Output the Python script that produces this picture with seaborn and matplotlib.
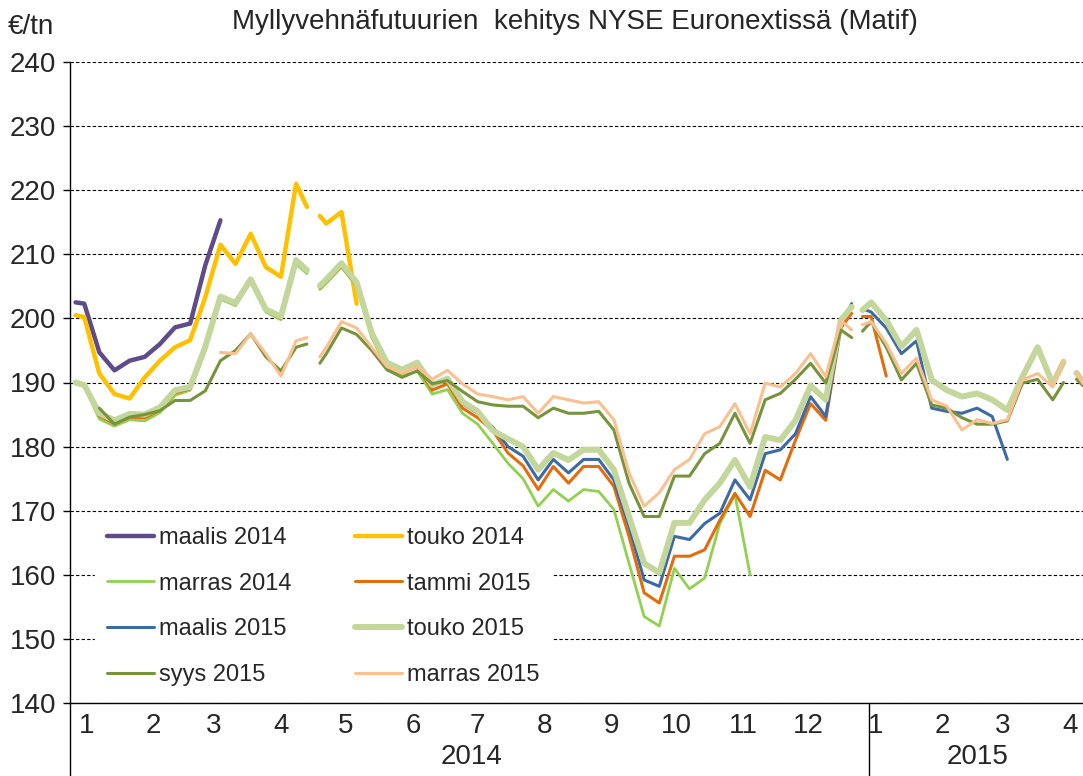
import numpy as np
import pandas as pd
import matplotlib
matplotlib.use("Agg")
import matplotlib.pyplot as plt
from matplotlib.lines import Line2D
import seaborn as sns

N = np.nan

# viikoittaiset havaintopäivät + alku- ja pyhäpäivien ympärille lisätyt päivät
weeks = pd.date_range("2014-01-03", "2015-04-10", freq="7D")
extra_days = pd.to_datetime(["2013-12-30", "2014-04-16", "2014-04-22", "2014-12-24",
                             "2014-12-29", "2015-04-01", "2015-04-07"])
dates = weeks.union(extra_days)

# hinnat €/tn (74 havaintoa / sarja)
maalis_2014 = [202.5, 202.3, 194.7, 191.9, 193.4, 194.0, 196.0, 198.6, 199.2, 208.3,
               215.3] + [N] * 63

touko_2014 = [200.5, 200.2, 191.4, 188.2, 187.5, 190.8, 193.4, 195.5, 196.6, 203.3,
              211.5, 208.5, 213.2, 208.0, 206.5, 221.0, 217.4, N, 216.0, 214.8,
              216.6, 202.3] + [N] * 52

marras_2014 = [189.8, 189.5, 184.3, 183.2, 184.2, 184.0, 185.3, 188.0, 188.8, 195.0,
               203.0, 202.0, 205.7, 201.0, 199.8, 208.5, 207.0, N, 204.5, 205.5,
               208.0, 205.0, 197.0, 192.3, 191.0, 191.8, 188.2, 188.9, 185.2, 183.5,
               180.5, 177.4, 175.0, 170.7, 173.3, 171.5, 173.3, 173.0, 170.2, 161.8,
               153.5, 152.0, 161.0, 157.8, 159.5, 168.0, 172.5, 160.0] + [N] * 26

tammi_2015 = [189.8, 189.5, 184.8, 183.6, 184.6, 184.5, 185.7, 188.4, 189.0, 195.3,
              203.2, 202.2, 205.9, 201.2, 200.0, 208.8, 207.3, N, 204.8, 205.8,
              208.2, 205.2, 197.3, 192.7, 191.5, 192.5, 188.8, 189.8, 186.0, 184.5,
              182.5, 179.0, 177.0, 173.3, 176.9, 174.3, 176.9, 176.9, 173.8, 166.0,
              157.2, 155.6, 162.9, 162.9, 163.9, 168.5, 172.7, 169.1, 176.3, 174.8,
              181.0, 186.7, 184.1, 198.5, 200.8, N, 200.3, 200.3, 191.0] + [N] * 15

maalis_2015 = [190.0, 189.7, 185.0, 183.9, 185.0, 184.9, 186.0, 188.8, 189.2, 195.5,
               203.3, 202.3, 206.0, 201.3, 200.2, 209.0, 207.5, N, 205.0, 206.0,
               208.5, 205.5, 197.6, 193.0, 191.9, 193.0, 189.5, 190.4, 186.7, 185.2,
               183.0, 180.0, 178.5, 174.8, 178.0, 175.9, 178.0, 178.0, 174.8, 167.6,
               159.2, 158.2, 166.0, 165.5, 168.0, 169.6, 174.8, 171.7, 178.9, 179.5,
               182.0, 187.8, 184.7, 199.0, 202.3, N, 201.5, 201.0, 198.5, 194.5,
               196.5, 186.0, 185.5, 185.2, 186.0, 184.7, 178.0] + [N] * 7

touko_2015 = [190.0, 189.6, 185.2, 184.1, 185.1, 185.0, 186.1, 188.8, 189.3, 195.6,
              203.4, 202.4, 206.1, 201.4, 200.3, 209.1, 207.5, N, 205.1, 206.1,
              208.6, 205.6, 197.7, 193.1, 192.0, 193.1, 189.6, 190.6, 187.0, 185.5,
              182.5, 181.2, 180.0, 176.4, 179.0, 177.9, 179.5, 179.5, 176.4, 169.1,
              161.8, 160.3, 168.1, 168.1, 171.7, 174.3, 177.9, 173.7, 181.5, 181.0,
              184.1, 189.5, 187.3, 199.7, 201.8, N, 201.3, 202.5, 199.7, 195.6,
              198.2, 190.4, 188.8, 187.8, 188.3, 187.3, 185.7, 190.9, 195.5, 189.8,
              193.2, N, 191.5, 190.0]

syys_2015 = [N, N, 186.0, 183.5, 184.6, 185.0, 185.6, 187.2, 187.2, 188.7,
             193.4, 195.0, 197.6, 194.0, 191.8, 195.5, 196.0, N, 193.0, 194.5,
             198.5, 197.5, 195.0, 192.0, 190.8, 191.8, 189.8, 190.3, 188.6, 187.0,
             186.5, 186.3, 186.3, 184.5, 186.0, 185.2, 185.2, 185.5, 182.6, 174.3,
             169.1, 169.1, 175.4, 175.4, 178.9, 180.5, 185.2, 180.5, 187.3, 188.3,
             190.5, 193.0, 189.9, 198.2, 197.0, N, 198.0, 199.5, 195.5, 190.4,
             193.0, 186.5, 186.0, 184.5, 183.5, 183.5, 184.0, 189.9, 190.5, 187.3,
             190.0, N, 190.5, 189.5]

marras_2015 = [N, N, N, N, N, N, N, N, N, N,
               194.7, 194.5, 197.6, 194.5, 191.0, 196.5, 197.0, N, 194.0, 195.5,
               199.5, 198.5, 195.5, 192.5, 191.5, 192.5, 190.5, 191.9, 189.8, 188.2,
               187.8, 187.3, 187.8, 185.2, 187.8, 187.3, 186.8, 187.0, 184.2, 175.9,
               170.7, 172.8, 176.4, 178.0, 182.0, 183.1, 186.7, 182.0, 189.9, 189.3,
               191.4, 194.5, 190.9, 199.7, 198.2, N, 199.0, 199.5, 196.1, 191.4,
               193.8, 187.3, 186.3, 182.6, 184.2, 183.6, 184.2, 190.4, 191.4, 189.3,
               193.5, N, 191.4, 189.8]

series_names = ["maalis 2014", "touko 2014", "marras 2014", "tammi 2015",
                "maalis 2015", "touko 2015", "syys 2015", "marras 2015"]
series_values = [maalis_2014, touko_2014, marras_2014, tammi_2015,
                 maalis_2015, touko_2015, syys_2015, marras_2015]
colors = ["#5E4C8A", "#FFC000", "#92D050", "#E46C0A",
          "#3D6AA5", "#C3D69B", "#77933C", "#FAC090"]
widths = [3.2, 3.2, 2.0, 2.2, 2.2, 4.3, 2.2, 2.2]

month_starts = pd.date_range("2014-01-01", "2015-04-01", freq="MS")
month_labels = ["1", "2", "3", "4", "5", "6", "7", "8", "9", "10", "11", "12",
                "1", "2", "3", "4"]
year_labels = ["2014", "2015"]
year_centers = pd.to_datetime(["2014-07-01", "2015-02-20"])

sns.set_theme(style="white")
plt.rcParams["font.family"] = ["Liberation Sans", "DejaVu Sans"]

fig = plt.figure(figsize=(10.83, 7.76), dpi=100)
ax = fig.add_axes([70 / 1083, 73 / 776, 1013 / 1083, 641 / 776])

for name, vals, col, lw in zip(series_names, series_values, colors, widths):
    df = pd.DataFrame({"date": dates, "value": vals})
    df["seg"] = df["value"].isna().cumsum()
    df = df.dropna()
    sns.lineplot(data=df, x="date", y="value", units="seg", estimator=None,
                 color=col, linewidth=lw, sort=False, legend=False, ax=ax)

ax.set_xlim(pd.Timestamp("2013-12-27 10:00"), pd.Timestamp("2015-04-10"))
ax.set_ylim(140, 240)
ax.set_yticks(np.arange(140, 241, 10))
ax.set_xticks(month_starts + pd.Timedelta(days=3))
ax.set_xticklabels(month_labels)
ax.set_xlabel("")
ax.set_ylabel("")

ax.yaxis.grid(True, linestyle=(0, (3, 2)), color="black", linewidth=0.8)
ax.xaxis.grid(False)
ax.set_axisbelow(True)
for s in ["top", "right"]:
    ax.spines[s].set_visible(False)
for s in ["left", "bottom"]:
    ax.spines[s].set_color("black")
    ax.spines[s].set_linewidth(1.0)

ax.tick_params(axis="y", direction="out", length=5, width=1, color="black",
               labelsize=20, pad=5, left=True)
ax.tick_params(axis="x", length=0, labelsize=20, pad=7)

# vuosijako x-akselin alle
xt = ax.get_xaxis_transform()
ax.plot([0, 0], [-0.114, 0], transform=ax.transAxes, color="black", lw=1, clip_on=False)
ax.plot([pd.Timestamp("2015-01-01")] * 2, [-0.114, 0], transform=xt,
        color="black", lw=1, clip_on=False)
for lab, xc in zip(year_labels, year_centers):
    ax.text(xc, -0.085, lab, transform=xt, ha="center", va="center", fontsize=20)

fig.text(0.531, 0.972, "Myllyvehnäfutuurien  kehitys NYSE Euronextissä (Matif)",
         ha="center", va="center", fontsize=20)
fig.text(0.007, 0.965, "€/tn", ha="left", va="center", fontsize=20)

handles = {n: Line2D([], [], color=c, lw=w) for n, c, w in zip(series_names, colors, widths)}
order = ["maalis 2014", "marras 2014", "maalis 2015", "syys 2015",
         "touko 2014", "tammi 2015", "touko 2015", "marras 2015"]
leg = ax.legend([handles[n] for n in order], order, ncol=2, loc="upper left",
                bbox_to_anchor=(0.0247, 0.293), borderaxespad=0, borderpad=0.5,
                fontsize=17, handlelength=2.0, handletextpad=0.2,
                columnspacing=2.7, labelspacing=1.0, frameon=True, fancybox=False)
leg.get_frame().set_facecolor("white")
leg.get_frame().set_edgecolor("white")
leg.get_frame().set_alpha(1)

fig.savefig("out.png", dpi=100)
